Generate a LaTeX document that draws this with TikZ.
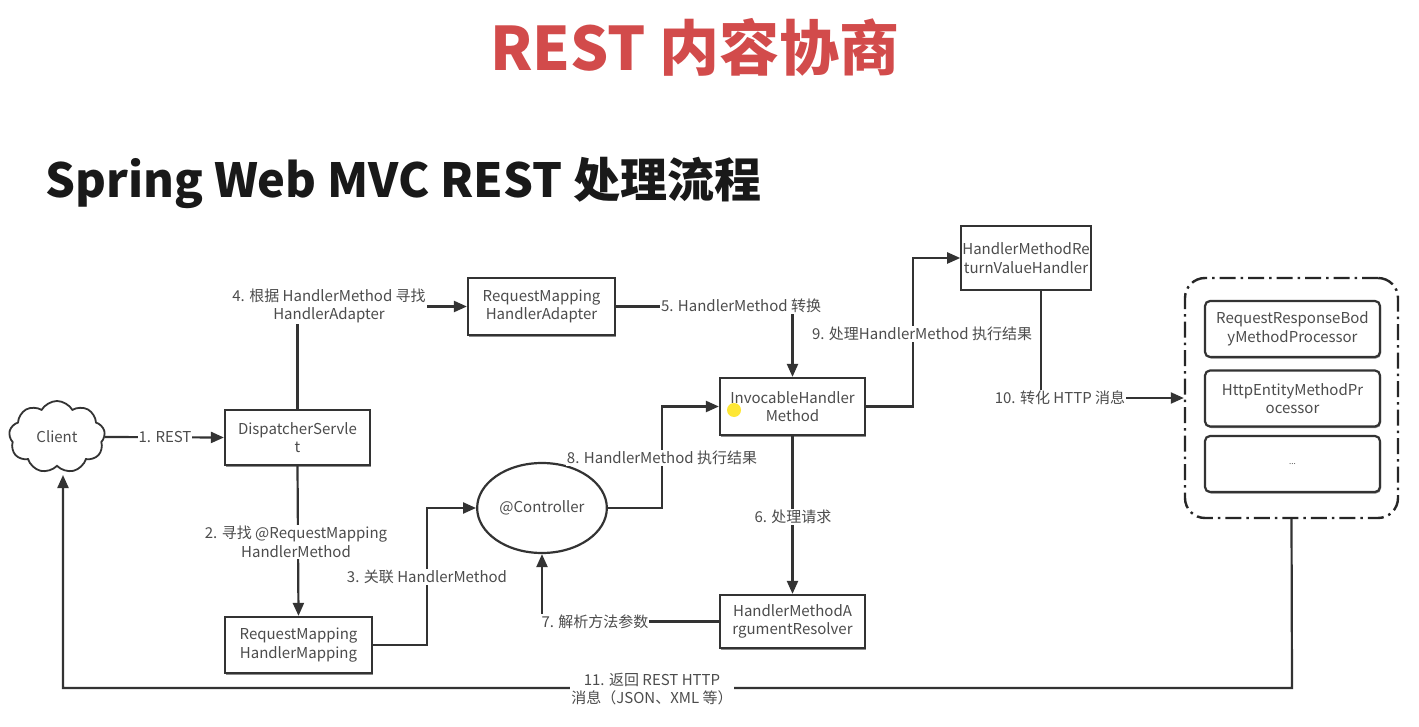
\documentclass[tikz,border=0pt]{standalone}
\usepackage{fontspec}
\setmainfont{Noto Sans CJK SC}
\usetikzlibrary{shapes.symbols,shapes.geometric,arrows.meta,shadows}

\begin{document}
\begin{tikzpicture}[x=1pt,y=-1pt,
  txt/.style={font=\fontsize{15}{18.5}\selectfont, text=black!70},
  box/.style={txt, draw=black!80, line width=2.2pt, fill=white, align=center,
    inner sep=1pt, drop shadow={shadow xshift=1pt, shadow yshift=-1.5pt, fill=black!45, opacity=1}},
  procbox/.style={box, rounded corners=5pt, minimum width=175pt, minimum height=56pt},
  lbl/.style={txt, fill=white, align=center, inner sep=1pt},
  conn/.style={draw=black!80, line width=2.2pt, -{Triangle[length=13pt,width=11pt]}}
]
\useasboundingbox (0,0) rectangle (1419,727);
\fill[white] (0,0) rectangle (1419,727);

% headings
\node[font=\fontsize{60}{70}\selectfont\bfseries, text={rgb,255:red,210;green,75;blue,75}]
  (title) at (695,47) {REST 内容协商};
\node[font=\fontsize{47}{56}\selectfont\bfseries, text=black!90, anchor=west]
  (subtitle) at (42,183) {Spring Web MVC REST 处理流程};

% nodes
\node[cloud, cloud puffs=9, cloud puff arc=120, aspect=1.3, draw=black!80, line width=1.8pt,
  minimum width=96pt, minimum height=72pt, fill=white, txt] (client) at (57,437) {Client};
\node[box, minimum width=145pt, minimum height=55pt] (ds) at (297.5,437.5) {DispatcherServle\\t};
\node[box, minimum width=147pt, minimum height=57pt] (rmha) at (541.5,306.5) {RequestMapping\\HandlerAdapter};
\node[box, minimum width=145pt, minimum height=57pt] (ihm) at (792.5,406.5) {InvocableHandler\\Method};
\node[box, minimum width=128pt, minimum height=64pt] (rvh) at (1026,258) {HandlerMethodRe\\turnValueHandler};
\node[box, minimum width=147pt, minimum height=56pt] (rmhm) at (298.5,645) {RequestMapping\\HandlerMapping};
\node[ellipse, draw=black!80, line width=2.2pt, minimum width=120pt, minimum height=90pt,
  fill=white, txt] (ctrl) at (542,508) {@Controller};
\node[box, minimum width=145pt, minimum height=53pt] (ar) at (792.5,621.5) {HandlerMethodA\\rgumentResolver};

% processor group
\node[draw=black!85, line width=2.4pt, rounded corners=20pt,
  dash pattern=on 16pt off 5pt on 2.5pt off 5pt,
  minimum width=213pt, minimum height=240pt] (grp) at (1291.5,398) {};
\node[procbox] (p1) at (1292.5,329) {RequestResponseBod\\yMethodProcessor};
\node[procbox] (p2) at (1292.5,398.5) {HttpEntityMethodPr\\ocessor};
\node[procbox, font=\fontsize{8}{10}\selectfont] (p3) at (1292.5,464) {...};

% connectors
\draw[conn] (client.east) -- (ds.west);
\draw[conn] (ds.north) -- (ds.north |- rmha.west) -- (rmha.west);
\draw[conn] (rmha.east) -- (ihm.north |- rmha.east) -- (ihm.north);
\draw[conn] (ihm.east) -- (913,406.5) -- (913,258) -- (rvh.west);
\draw[conn] (1041,290) -- (1041,398) -- (grp.west);
\draw[conn] (ds.south) -- (rmhm.north);
\draw[conn] (rmhm.east) -- (427,645) -- (427,508) -- (ctrl.west);
\draw[conn] (ctrl.east) -- (662,508) -- (662,406.5) -- (ihm.west);
\draw[conn] (ihm.south) -- (ar.north);
\draw[conn] (ar.west) -- (ctrl.south |- ar.west) -- (ctrl.south);
\draw[conn] (grp.south) -- (1292,688) -- (63,688) -- (63,475);

% connector labels
\node[lbl] (l1) at (165,437) {1. REST};
\node[lbl] (l2) at (296,542) {2. 寻找 @RequestMapping\\HandlerMethod};
\node[lbl] (l3) at (427,577) {3. 关联 HandlerMethod};
\node[lbl] (l4) at (329,306) {4. 根据 HandlerMethod 寻找\\HandlerAdapter};
\node[lbl] (l5) at (741,306) {5. HandlerMethod 转换};
\node[lbl] (l6) at (793,517) {6. 处理请求};
\node[lbl] (l7) at (595,622) {7. 解析方法参数};
\node[lbl] (l8) at (662,458) {8. HandlerMethod 执行结果};
\node[lbl] (l9) at (922,334) {9. 处理HandlerMethod 执行结果};
\node[lbl] (l10) at (1060,398) {10. 转化 HTTP 消息};
\node[lbl] (l11) at (652,689) {11. 返回 REST HTTP\\消息（JSON、XML 等）};

% pointer highlight
\fill[yellow!85!orange, opacity=0.8] (734,410) circle (7pt);
\end{tikzpicture}
\end{document}
